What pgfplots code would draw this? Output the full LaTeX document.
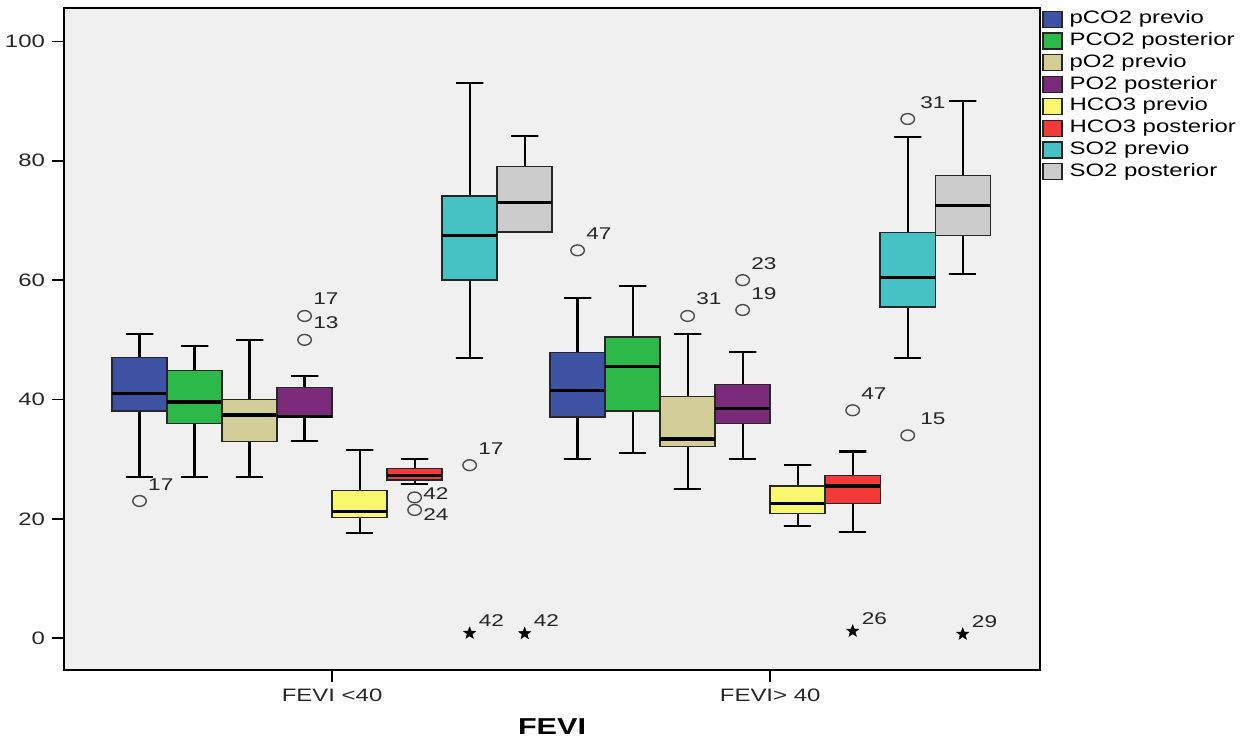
\documentclass[border=0pt]{standalone}
\usepackage{fontspec}
\setmainfont{Liberation Sans}[FakeStretch=1.33]
\usepackage{pgfplots}
\pgfplotsset{compat=1.18}
\definecolor{bgg}{HTML}{F0F0F0}
\definecolor{cblue}{HTML}{3E53A4}
\definecolor{cgreen}{HTML}{2DB84A}
\definecolor{ctan}{HTML}{D3CE97}
\definecolor{cpurple}{HTML}{7B2A7A}
\definecolor{cyellow}{HTML}{F9F76E}
\definecolor{cred}{HTML}{F23A3A}
\definecolor{ccyan}{HTML}{47C2C4}
\definecolor{cgray}{HTML}{CCCCCC}
% filled five-pointed star mark
\pgfdeclareplotmark{fstar}{%
  \pgfpathmoveto{\pgfqpoint{0pt}{\pgfplotmarksize}}%
  \pgfpathlineto{\pgfqpoint{-0.2469\pgfplotmarksize}{0.3398\pgfplotmarksize}}%
  \pgfpathlineto{\pgfqpoint{-0.9511\pgfplotmarksize}{0.3090\pgfplotmarksize}}%
  \pgfpathlineto{\pgfqpoint{-0.3995\pgfplotmarksize}{-0.1298\pgfplotmarksize}}%
  \pgfpathlineto{\pgfqpoint{-0.5878\pgfplotmarksize}{-0.8090\pgfplotmarksize}}%
  \pgfpathlineto{\pgfqpoint{0pt}{-0.42\pgfplotmarksize}}%
  \pgfpathlineto{\pgfqpoint{0.5878\pgfplotmarksize}{-0.8090\pgfplotmarksize}}%
  \pgfpathlineto{\pgfqpoint{0.3995\pgfplotmarksize}{-0.1298\pgfplotmarksize}}%
  \pgfpathlineto{\pgfqpoint{0.9511\pgfplotmarksize}{0.3090\pgfplotmarksize}}%
  \pgfpathlineto{\pgfqpoint{0.2469\pgfplotmarksize}{0.3398\pgfplotmarksize}}%
  \pgfpathclose\pgfusepathqfillstroke}
% one box: colour, centre, lower whisker, Q1, median, Q3, upper whisker
\newcommand\bx[7]{%
  \pgfmathsetmacro\xa{#2-0.0628}\pgfmathsetmacro\xb{#2+0.0628}%
  \pgfmathsetmacro\ca{#2-0.0314}\pgfmathsetmacro\cb{#2+0.0314}%
  \addplot[black, line width=1.1pt, unbounded coords=jump, forget plot]
    coordinates {(\ca,#7) (\cb,#7) (#2,#7) (#2,#6) (#2,nan) (#2,#4) (#2,#3) (\ca,#3) (\cb,#3)};
  \addplot[fill=#1, draw=black!85, line width=0.7pt, forget plot]
    coordinates {(\xa,#4) (\xb,#4) (\xb,#6) (\xa,#6)} -- cycle;
  \addplot[black, line width=1.6pt, forget plot] coordinates {(\xa,#5) (\xb,#5)};
}
\pgfplotsset{
  circ/.style 2 args={only marks, mark=o, mark size=2.7pt,
    mark options={draw=black!70, line width=0.7pt, xscale=1.25},
    nodes near coords, point meta=explicit symbolic,
    every node near coord/.append style={anchor=base west, inner sep=0pt,
      xshift=#1, yshift=#2, font=\fontsize{8.5}{9}\selectfont, text=black!85},
    forget plot},
  xstar/.style 2 args={only marks, mark=fstar, mark size=3.2pt,
    mark options={fill=black, draw=black, line width=0.2pt},
    nodes near coords, point meta=explicit symbolic,
    every node near coord/.append style={anchor=base west, inner sep=0pt,
      xshift=#1, yshift=#2, font=\fontsize{8.5}{9}\selectfont, text=black!85},
    forget plot},
}
\begin{document}
\begin{tikzpicture}
\useasboundingbox (-32pt,-36pt) rectangle (589.5pt,335pt);
\begin{axis}[
  scale only axis, width=488pt, height=331pt,
  xmin=-0.612, xmax=1.616, ymin=-5.31, ymax=105.6,
  axis background/.style={fill=bgg},
  xtick={0,1}, xticklabels={FEVI <40, FEVI> 40},
  ytick={0,20,40,60,80,100},
  tick align=outside, xtick pos=left, ytick pos=left,
  major tick length=6pt,
  tick style={black, line width=0.9pt},
  axis line style={line width=0.9pt},
  /pgf/number format/assume math mode=true,
  ticklabel style={font=\fontsize{9}{10}\selectfont, text=black!85},
  xlabel={FEVI},
  xlabel style={font=\bfseries\fontsize{11.5}{13}\selectfont, yshift=-1.5pt},
  legend style={at={(1,1)}, anchor=north west, draw=none, fill=none,
    font=\fontsize{9}{10}\selectfont, inner sep=0pt, row sep=0pt,
    cells={anchor=west},
    nodes={inner sep=1pt, text height=6.7pt, text depth=2.2pt}, xshift=1pt},
  legend image code/.code={\draw[#1] (0pt,-4pt) rectangle (9.5pt,4pt);
    \path (12pt,0pt);},
]
\addlegendimage{fill=cblue, draw=black!85, line width=0.6pt}\addlegendentry{pCO2 previo}
\addlegendimage{fill=cgreen, draw=black!85, line width=0.6pt}\addlegendentry{PCO2 posterior}
\addlegendimage{fill=ctan, draw=black!85, line width=0.6pt}\addlegendentry{pO2 previo}
\addlegendimage{fill=cpurple, draw=black!85, line width=0.6pt}\addlegendentry{PO2 posterior}
\addlegendimage{fill=cyellow, draw=black!85, line width=0.6pt}\addlegendentry{HCO3 previo}
\addlegendimage{fill=cred, draw=black!85, line width=0.6pt}\addlegendentry{HCO3 posterior}
\addlegendimage{fill=ccyan, draw=black!85, line width=0.6pt}\addlegendentry{SO2 previo}
\addlegendimage{fill=cgray, draw=black!85, line width=0.6pt}\addlegendentry{SO2 posterior}

% FEVI <40
\bx{cblue}{-0.4396}{27}{38.1}{41}{47}{51}
\bx{cgreen}{-0.3140}{27}{36}{39.6}{44.9}{49}
\bx{ctan}{-0.1884}{27}{33}{37.4}{40}{50}
\bx{cpurple}{-0.0628}{33}{37}{37.2}{42}{44}
\bx{cyellow}{0.0628}{17.6}{20.2}{21.3}{24.8}{31.5}
\bx{cred}{0.1884}{25.8}{26.5}{27.3}{28.4}{30.1}
\bx{ccyan}{0.3140}{47}{60}{67.5}{74.1}{93}
\bx{cgray}{0.4396}{68.1}{68.1}{73}{79}{84.1}
% FEVI > 40
\bx{cblue}{0.5604}{30}{37.1}{41.5}{47.9}{57}
\bx{cgreen}{0.6860}{31.1}{38.1}{45.5}{50.5}{59}
\bx{ctan}{0.8116}{25}{32.1}{33.4}{40.5}{51}
\bx{cpurple}{0.9372}{30}{36}{38.5}{42.5}{48}
\bx{cyellow}{1.0628}{18.8}{20.9}{22.6}{25.5}{29}
\bx{cred}{1.1884}{17.8}{22.6}{25.5}{27.3}{31.3}
\bx{ccyan}{1.3140}{47}{55.5}{60.5}{68}{84}
\bx{cgray}{1.4396}{61.1}{67.5}{72.5}{77.5}{90}

% outliers (circles) with case labels
\addplot[circ={4pt}{5.5pt}] coordinates {
  (-0.4396,23.0) [17] (-0.0628,50.0) [13] (-0.0628,54.0) [17] (0.3140,29.0) [17]
  (0.5604,65.0) [47] (0.8116,54.0) [31] (0.9372,60.0) [23] (0.9372,55.0) [19]
  (1.1884,38.2) [47]};
\addplot[circ={4pt}{-1pt}] coordinates {(0.1884,23.6) [42]};
\addplot[circ={4pt}{-5.5pt}] coordinates {(0.1884,21.5) [24]};
\addplot[circ={6pt}{5.5pt}] coordinates {(1.3140,87.0) [31] (1.3140,34.0) [15]};
% extreme values (stars)
\addplot[xstar={4.5pt}{3.5pt}] coordinates {
  (0.3140,0.85) [42] (0.4396,0.8) [42] (1.1884,1.2) [26] (1.4396,0.7) [29]};
\end{axis}
\end{tikzpicture}
\end{document}
